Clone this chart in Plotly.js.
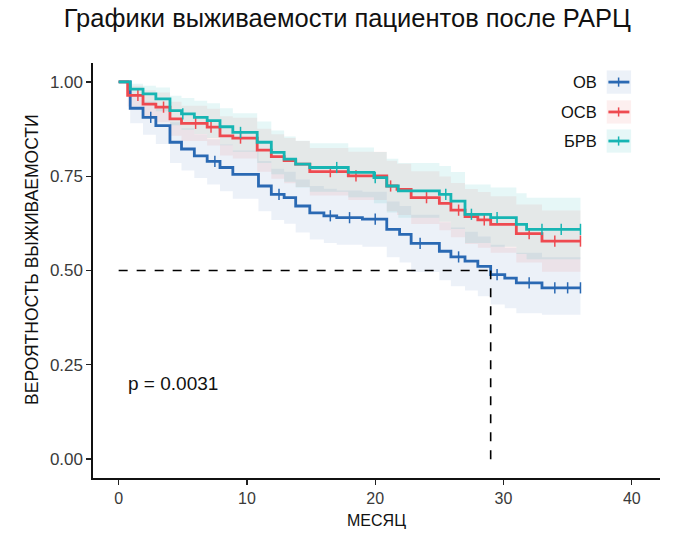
<!DOCTYPE html>
<html>
<head>
<meta charset="utf-8">
<script src="https://cdn.plot.ly/plotly-3.0.1.min.js"></script>
<style>
  html, body { margin: 0; padding: 0; background: #fff; }
  #plot { width: 685px; height: 545px; }
</style>
</head>
<body>
<div id="plot"></div>
<script>
// ОВ
const ovTime  = [0, 0.9, 1.9, 2.9, 4.0, 4.9, 5.9, 6.9, 7.9, 8.9, 10.9, 11.9, 12.9, 13.8, 14.9, 16.0, 17.0, 19.0, 20.9, 21.9, 22.8, 25.0, 25.9, 27.0, 28.0, 29.0, 30.1, 31.0, 33.0, 36.0];
const ovSurv  = [1.0, 0.93, 0.906, 0.884, 0.84, 0.822, 0.804, 0.789, 0.773, 0.755, 0.724, 0.702, 0.693, 0.671, 0.653, 0.645, 0.64, 0.636, 0.609, 0.596, 0.572, 0.551, 0.536, 0.525, 0.511, 0.489, 0.48, 0.467, 0.454, 0.454];
const ovLower = [1.0, 0.89, 0.86, 0.835, 0.785, 0.765, 0.745, 0.728, 0.71, 0.69, 0.657, 0.634, 0.624, 0.601, 0.582, 0.573, 0.568, 0.563, 0.535, 0.521, 0.496, 0.474, 0.458, 0.447, 0.432, 0.41, 0.40, 0.387, 0.383, 0.383];
const ovUpper = [1.0, 0.965, 0.948, 0.93, 0.893, 0.877, 0.861, 0.848, 0.834, 0.818, 0.79, 0.77, 0.762, 0.741, 0.724, 0.717, 0.712, 0.709, 0.683, 0.671, 0.648, 0.628, 0.614, 0.603, 0.59, 0.568, 0.56, 0.547, 0.535, 0.535];
const ovCens  = [2.5, 7.5, 12.5, 16.5, 18.0, 20.0, 23.5, 26.5, 29.5, 32.0, 34.0, 35.0, 36.0];

// ОСВ
const osvTime  = [0, 0.7, 1.9, 2.9, 4.0, 4.9, 6.9, 7.9, 8.9, 10.8, 11.9, 12.9, 13.8, 14.9, 17.9, 20.9, 21.7, 22.8, 25.0, 25.9, 27.0, 28.0, 29.0, 31.0, 33.0, 36.0];
const osvSurv  = [1.0, 0.964, 0.941, 0.933, 0.902, 0.89, 0.88, 0.857, 0.851, 0.819, 0.802, 0.791, 0.782, 0.762, 0.751, 0.724, 0.715, 0.693, 0.678, 0.66, 0.643, 0.634, 0.622, 0.598, 0.578, 0.578];
const osvLower = [1.0, 0.935, 0.905, 0.893, 0.857, 0.843, 0.831, 0.805, 0.797, 0.762, 0.743, 0.731, 0.721, 0.699, 0.687, 0.657, 0.647, 0.623, 0.607, 0.588, 0.57, 0.56, 0.547, 0.521, 0.497, 0.497];
const osvUpper = [1.0, 0.99, 0.978, 0.972, 0.947, 0.937, 0.929, 0.909, 0.905, 0.876, 0.861, 0.851, 0.843, 0.825, 0.815, 0.791, 0.783, 0.763, 0.749, 0.732, 0.716, 0.708, 0.697, 0.675, 0.659, 0.659];
const osvCens  = [1.5, 3.5, 6.0, 7.2, 9.5, 16.5, 18.5, 21.2, 24.0, 26.5, 28.5, 32.0, 34.0, 36.0];

// БРВ
const brvTime  = [0, 0.9, 1.9, 2.9, 4.0, 4.9, 5.9, 6.9, 7.9, 8.9, 10.8, 11.9, 12.9, 13.8, 14.9, 17.9, 19.9, 20.9, 21.8, 25.0, 25.9, 27.0, 29.0, 31.0, 31.8, 36.0];
const brvSurv  = [1.0, 0.981, 0.968, 0.955, 0.924, 0.915, 0.906, 0.897, 0.881, 0.866, 0.84, 0.813, 0.795, 0.782, 0.773, 0.76, 0.746, 0.724, 0.711, 0.702, 0.684, 0.649, 0.64, 0.622, 0.609, 0.609];
const brvLower = [1.0, 0.96, 0.94, 0.922, 0.885, 0.873, 0.862, 0.851, 0.832, 0.815, 0.785, 0.755, 0.735, 0.72, 0.709, 0.694, 0.678, 0.654, 0.64, 0.629, 0.61, 0.573, 0.563, 0.544, 0.53, 0.53];
const brvUpper = [1.0, 0.995, 0.99, 0.985, 0.963, 0.957, 0.95, 0.943, 0.93, 0.917, 0.895, 0.871, 0.855, 0.844, 0.837, 0.826, 0.814, 0.796, 0.785, 0.777, 0.761, 0.728, 0.72, 0.705, 0.693, 0.693];
const brvCens  = [5.0, 9.5, 17.0, 20.0, 25.5, 27.5, 29.5, 33.0, 34.5, 36.0];

const groupNames = ["ОВ", "ОСВ", "БРВ"];
const xTicks = [0, 10, 20, 30, 40];
const yTicks = [0, 0.25, 0.5, 0.75, 1.0];
const yTickText = ["0.00", "0.25", "0.50", "0.75", "1.00"];
const pValueText = "p = 0.0031";

const colors = ["#2a69b3", "#ee4a50", "#17b5b3"];
const bandColors = ["rgba(42,105,179,0.09)", "rgba(238,74,80,0.09)", "rgba(23,181,179,0.11)"];

const groups = [
    {time: ovTime,  surv: ovSurv,  lower: ovLower,  upper: ovUpper,  cens: ovCens},
    {time: osvTime, surv: osvSurv, lower: osvLower, upper: osvUpper, cens: osvCens},
    {time: brvTime, surv: brvSurv, lower: brvLower, upper: brvUpper, cens: brvCens}
];

// value of the step curve at time t
function stepAt(time, surv, t){
    let v = surv[0];
    for(let i=0;i<time.length;i++){
        if(time[i] <= t) v = surv[i];
    }
    return v;
}

const traces = [];

groups.forEach((g, k) => {
    traces.push({
        x: g.time, y: g.lower, mode: "lines",
        line: {shape: "hv", width: 0, color: bandColors[k]},
        hoverinfo: "skip", showlegend: false
    });
    traces.push({
        x: g.time, y: g.upper, mode: "lines", fill: "tonexty",
        fillcolor: bandColors[k],
        line: {shape: "hv", width: 0, color: bandColors[k]},
        hoverinfo: "skip", showlegend: false
    });
});

groups.forEach((g, k) => {
    traces.push({
        x: g.time, y: g.surv, mode: "lines", name: groupNames[k],
        line: {shape: "hv", width: 2.8, color: colors[k]},
        showlegend: false
    });
    traces.push({
        x: g.cens, y: g.cens.map(t => stepAt(g.time, g.surv, t)),
        mode: "markers",
        marker: {symbol: "line-ns", size: 8, line: {width: 1.5, color: colors[k]}},
        showlegend: false
    });
});

// median of ОВ
let medianOV = null;
for(let i=0;i<ovTime.length;i++){
    if(ovSurv[i] <= 0.5){ medianOV = ovTime[i]; break; }
}

const shapes = [
    {type: "line", xref: "x", yref: "y", x0: 0, x1: medianOV, y0: 0.5, y1: 0.5,
     line: {color: "#000", width: 1.6, dash: "dash"}},
    {type: "line", xref: "x", yref: "y", x0: medianOV, x1: medianOV, y0: 0, y1: 0.5,
     line: {color: "#000", width: 1.6, dash: "dash"}}
];

const annotations = [
    {xref: "x", yref: "y", x: 0.6, y: 0.2, text: pValueText, showarrow: false,
     xanchor: "left", yanchor: "middle", font: {size: 19, color: "#111"}},
    {xref: "paper", yref: "paper", x: -0.108, y: 0.525, text: "ВЕРОЯТНОСТЬ ВЫЖИВАЕМОСТИ",
     textangle: -90, showarrow: false, xanchor: "center", yanchor: "middle",
     font: {size: 17.5, color: "#111"}}
];

// legend (text left of key, ggplot style)
const legY = [0.954, 0.882, 0.812];
groupNames.forEach((name, k) => {
    annotations.push({
        xref: "paper", yref: "paper", x: 0.893, y: legY[k], text: name,
        showarrow: false, xanchor: "right", yanchor: "middle",
        font: {size: 16.5, color: "#111"}
    });
    shapes.push({type: "rect", xref: "paper", yref: "paper",
        x0: 0.906, x1: 0.949, y0: legY[k] - 0.028, y1: legY[k] + 0.028,
        fillcolor: bandColors[k], line: {width: 0}});
    shapes.push({type: "line", xref: "paper", yref: "paper",
        x0: 0.909, x1: 0.946, y0: legY[k], y1: legY[k],
        line: {color: colors[k], width: 2.8}});
    shapes.push({type: "line", xref: "paper", yref: "paper",
        x0: 0.927, x1: 0.927, y0: legY[k] - 0.011, y1: legY[k] + 0.011,
        line: {color: colors[k], width: 1.5}});
});

const layout = {
    width: 685,
    height: 545,
    margin: {l: 93, r: 25, t: 63, b: 67},
    paper_bgcolor: "#fff",
    plot_bgcolor: "#fff",
    font: {family: "Liberation Sans, Arial, sans-serif", color: "#111"},
    title: {
        text: "Графики выживаемости пациентов после РАРЦ",
        font: {size: 25.5, color: "#111"},
        x: 0.507, xref: "container", xanchor: "center",
        y: 0.966, yref: "container", yanchor: "middle"
    },
    xaxis: {
        range: [-2, 42.2],
        tickvals: xTicks,
        ticks: "outside", ticklen: 5, tickwidth: 1.3, tickcolor: "#222",
        showline: true, linecolor: "#111", linewidth: 1.6,
        showgrid: false, zeroline: false,
        tickfont: {size: 16, color: "#3a3a3a"},
        title: {text: "МЕСЯЦ", font: {size: 16, color: "#111"}, standoff: 9}
    },
    yaxis: {
        range: [-0.05, 1.05],
        tickvals: yTicks, ticktext: yTickText,
        ticks: "outside", ticklen: 5, tickwidth: 1.3, tickcolor: "#222",
        showline: true, linecolor: "#111", linewidth: 1.6,
        showgrid: false, zeroline: false,
        tickfont: {size: 17, color: "#3a3a3a"}
    },
    shapes: shapes,
    annotations: annotations,
    showlegend: false
};

Plotly.newPlot("plot", traces, layout, {displayModeBar: false, staticPlot: true});
</script>
</body>
</html>
